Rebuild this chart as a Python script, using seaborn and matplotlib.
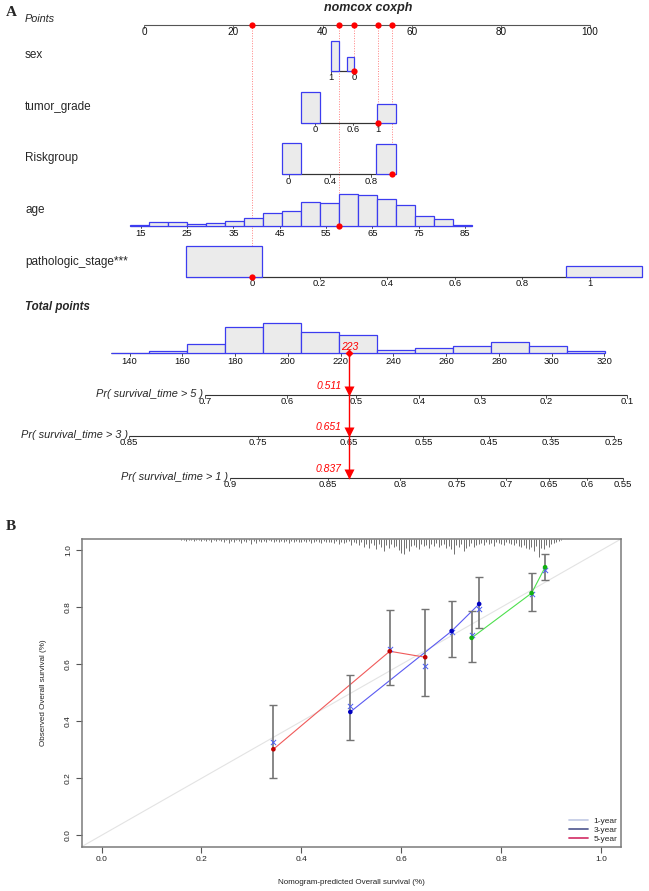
import numpy as np
import pandas as pd
import matplotlib
matplotlib.use("Agg")
import matplotlib.pyplot as plt
import seaborn as sns
from matplotlib.lines import Line2D

# ======================= DATA: nomogram =======================
points_ticks = [0, 20, 40, 60, 80, 100]

# each predictor: points = pts0 + coef * value
sex_pts0, sex_coef = 47.1, -5.2
sex_ticks = [1, 0]
sex_bins = [(0.673, 1.0), (0.0, 0.327)]
sex_freq = [30.3, 14.0]
sex_value = 0

grade_pts0, grade_coef = 38.4, 14.1
grade_ticks = [0, 0.6, 1]
grade_bins = [(-0.232, 0.067), (0.974, 1.286)]
grade_freq = [31.0, 18.4]
grade_value = 1

risk_pts0, risk_coef = 32.4, 23.1
risk_ticks = [0, 0.4, 0.8]
risk_bins = [(-0.068, 0.117), (0.853, 1.043)]
risk_freq = [30.7, 29.7]
risk_value = 1

age_pts0, age_coef = -16.31, 1.038
age_ticks = [15, 25, 35, 45, 55, 65, 75, 85]
age_edges = [12.58, 16.69, 20.80, 24.91, 29.02, 33.13, 37.24, 41.35, 45.46, 49.57,
             53.68, 57.79, 61.90, 66.01, 70.12, 74.23, 78.34, 82.45, 86.56]
age_freq = [1.0, 3.7, 3.7, 1.7, 2.7, 4.3, 7.3, 12.3, 14.7, 23.7, 22.7, 31.7,
            30.3, 26.3, 20.7, 9.3, 6.7, 1.0]
age_value = 57.8

stage_pts0, stage_coef = 24.2, 75.8
stage_ticks = [0, 0.2, 0.4, 0.6, 0.8, 1]
stage_bins = [(-0.195, 0.030), (0.928, 1.154)]
stage_freq = [30.3, 10.3]
stage_value = 0

total_ticks = [140, 160, 180, 200, 220, 240, 260, 280, 300, 320]
total_edges = [132.9, 147.3, 161.7, 176.1, 190.5, 204.9, 219.3, 233.7, 248.1,
               262.5, 276.9, 291.3, 305.7, 320.1]
total_freq = [0.7, 2.0, 9.3, 26.7, 30.3, 21.3, 18.0, 3.0, 5.0, 7.0, 11.0, 7.0, 2.0]
total_to_points_zero, total_to_points_scale = 145.5, 0.5915

# survival: cloglog(S) = beta * total + c_t
surv_beta = 0.011662
surv_c5, surv_c3, surv_c1 = -2.999, -3.446, -4.327
pr5_ticks = [0.7, 0.6, 0.5, 0.4, 0.3, 0.2, 0.1]
pr3_ticks = [0.85, 0.75, 0.65, 0.55, 0.45, 0.35, 0.25]
pr1_ticks = [0.9, 0.85, 0.8, 0.75, 0.7, 0.65, 0.6, 0.55]

# ======================= DATA: calibration =======================
pred_1y = [0.741, 0.861, 0.888]
obs_1y = [0.693, 0.850, 0.941]
lo_1y = [0.609, 0.789, 0.897]
hi_1y = [0.787, 0.922, 0.986]
corr_1y = [0.704, 0.848, 0.930]

pred_3y = [0.498, 0.701, 0.756]
obs_3y = [0.433, 0.717, 0.812]
lo_3y = [0.336, 0.625, 0.728]
hi_3y = [0.561, 0.821, 0.906]
corr_3y = [0.453, 0.715, 0.793]

pred_5y = [0.344, 0.577, 0.648]
obs_5y = [0.302, 0.646, 0.625]
lo_5y = [0.200, 0.528, 0.489]
hi_5y = [0.459, 0.790, 0.793]
corr_5y = [0.327, 0.655, 0.593]

spike_start, spike_step = 0.16, 0.005
spike_freq = [1, 1, 2, 1, 1, 2, 1, 1, 2, 1,
              2, 1, 3, 1, 2, 1, 2, 3, 1, 4,
              2, 3, 1, 2, 4, 2, 3, 1, 5, 2,
              4, 2, 3, 2, 3, 1, 2, 3, 2, 3,
              2, 3, 2, 4, 2, 3, 2, 3, 3, 2,
              3, 2, 4, 3, 2, 3, 4, 2, 3, 3,
              3, 4, 2, 5, 3, 4, 3, 2, 6, 3,
              4, 6, 3, 8, 5, 9, 4, 6, 10, 5,
              8, 12, 6, 9, 5, 8, 7, 11, 14, 15,
              9, 12, 7, 6, 8, 10, 5, 7, 6, 9,
              5, 7, 4, 8, 6, 5, 9, 7, 10, 15,
              6, 8, 5, 12, 9, 7, 4, 8, 6, 5,
              4, 6, 3, 5, 4, 7, 3, 4, 5, 6,
              3, 4, 5, 6, 4, 7, 8, 6, 9, 10,
              8, 12, 7, 18, 9, 10, 6, 8, 5, 4,
              3, 2, 1]

legend_labels = ["1-year", "3-year", "5-year"]

# ======================= STYLE =======================
sns.set_style("white")
plt.rcParams['font.family'] = ['Liberation Sans', 'DejaVu Sans']

W, H = 649, 891
fig = plt.figure(figsize=(W / 100, H / 100), dpi=100)

# ---------------- Panel A: nomogram ----------------
NOM_H = 492
ax = fig.add_axes([0, 1 - NOM_H / H, 1, NOM_H / H])
PX0, PXU = 144.1, 4.46
ax.set_xlim(-PX0 / PXU, (W - PX0) / PXU)
ax.set_ylim(NOM_H, 0)
ax.axis('off')
ytr = ax.get_yaxis_transform()

BAR_FC, BAR_EC = '#ebebeb', '#3c3cf0'
RED = '#ff0000'
AX_C = '#333333'
TICK_FS = 6.8
LAB_FS = 8.5


def fmt(v):
    return f"{v:g}"


def draw_axis(y, tick_P, labels, lo=None, hi=None, fs=TICK_FS, dy=7, color=AX_C, lw=0.8):
    lo = min(tick_P) if lo is None else lo
    hi = max(tick_P) if hi is None else hi
    ax.plot([lo, hi], [y, y], color=color, lw=lw, solid_capstyle='butt', zorder=2)
    for P, lab in zip(tick_P, labels):
        ax.plot([P, P], [y, y + 2.5], color=color, lw=0.6, zorder=2)
        ax.text(P, y + dy, lab, ha='center', va='center', fontsize=fs, color='#111111')


def draw_bars(y, lefts, rights, heights):
    for l, r, h in zip(lefts, rights, heights):
        a, b = min(l, r), max(l, r)
        ax.bar(a, -h, width=b - a, bottom=y, align='edge', facecolor=BAR_FC,
               edgecolor=BAR_EC, linewidth=0.9, zorder=3)


fig.text(6 / W, 1 - 13 / H, 'A', family=['Liberation Serif', 'DejaVu Serif'],
         weight='bold', fontsize=11, va='center')
ax.text(368.5 / W, 8, 'nomcox coxph', transform=ytr, ha='center', va='center',
        fontsize=9, weight='bold', style='italic')

# Points axis
Y_POINTS = 25
ax.text(25 / W, 19, 'Points', transform=ytr, ha='left', va='center',
        fontsize=7.8, style='italic')
draw_axis(Y_POINTS, points_ticks, [fmt(t) for t in points_ticks], fs=7.2, color='#555555')

rows = [
    ('sex', 71, sex_pts0, sex_coef, sex_ticks, sex_bins, sex_freq, sex_value),
    ('tumor_grade', 122.7, grade_pts0, grade_coef, grade_ticks, grade_bins, grade_freq, grade_value),
    ('Riskgroup', 174, risk_pts0, risk_coef, risk_ticks, risk_bins, risk_freq, risk_value),
]

total = 0.0
for name, y, p0, cf, ticks, bins, freq, val in rows:
    ax.text(25 / W, y - 16, name, transform=ytr, ha='left', va='center', fontsize=LAB_FS)
    tP = [p0 + cf * t for t in ticks]
    bl = [p0 + cf * b[0] for b in bins]
    br = [p0 + cf * b[1] for b in bins]
    allx = bl + br
    ax.plot([min(allx), max(allx)], [y, y], color=AX_C, lw=0.8, zorder=2)
    draw_axis(y, tP, [fmt(t) for t in ticks])
    draw_bars(y, bl, br, freq)
    Pv = p0 + cf * val
    total += Pv
    ax.plot([Pv, Pv], [Y_POINTS, y], color='#ff8080', lw=0.7, ls=(0, (1, 1.6)), zorder=1)
    ax.plot([Pv, Pv], [Y_POINTS, y], 'o', color=RED, ms=4.5, mec='none', zorder=5)

# age
Y_AGE = 225.7
ax.text(25 / W, Y_AGE - 16, 'age', transform=ytr, ha='left', va='center', fontsize=LAB_FS)
aP = [age_pts0 + age_coef * e for e in age_edges]
draw_axis(Y_AGE, [age_pts0 + age_coef * t for t in age_ticks], [fmt(t) for t in age_ticks],
          lo=aP[0], hi=aP[-1], dy=8)
draw_bars(Y_AGE, aP[:-1], aP[1:], age_freq)
Pv = age_pts0 + age_coef * age_value
total += Pv
ax.plot([Pv, Pv], [Y_POINTS, Y_AGE], color='#ff8080', lw=0.7, ls=(0, (1, 1.6)), zorder=1)
ax.plot([Pv, Pv], [Y_POINTS, Y_AGE], 'o', color=RED, ms=4.5, mec='none', zorder=5)

# pathologic stage
Y_ST = 276.7
ax.text(25 / W, Y_ST - 15, 'pathologic_stage***', transform=ytr, ha='left', va='center',
        fontsize=LAB_FS)
sbl = [stage_pts0 + stage_coef * b[0] for b in stage_bins]
sbr = [stage_pts0 + stage_coef * b[1] for b in stage_bins]
ax.plot([min(sbl), max(sbr)], [Y_ST, Y_ST], color=AX_C, lw=0.8, zorder=2)
draw_axis(Y_ST, [stage_pts0 + stage_coef * t for t in stage_ticks], [fmt(t) for t in stage_ticks])
draw_bars(Y_ST, sbl, sbr, stage_freq)
Pv = stage_pts0 + stage_coef * stage_value
total += Pv
ax.plot([Pv, Pv], [Y_POINTS, Y_ST], color='#ff8080', lw=0.7, ls=(0, (1, 1.6)), zorder=1)
ax.plot([Pv, Pv], [Y_POINTS, Y_ST], 'o', color=RED, ms=4.5, mec='none', zorder=5)


def t2p(T):
    return (T - total_to_points_zero) * total_to_points_scale


# Total points
Y_TOT = 353.3
ax.text(25 / W, 306.7, 'Total points', transform=ytr, ha='left', va='center',
        fontsize=8.3, weight='bold', style='italic')
tE = [t2p(e) for e in total_edges]
draw_axis(Y_TOT, [t2p(t) for t in total_ticks], [fmt(t) for t in total_ticks],
          lo=tE[0], hi=tE[-1], dy=8.4)
draw_bars(Y_TOT, tE[:-1], tE[1:], total_freq)
PT = t2p(total)


def prob_to_P(p, c):
    return t2p((np.log(-np.log(p)) - c) / surv_beta)


prob_rows = [
    ('Pr( survival_time > 5 )', 395.0, surv_c5, pr5_ticks, 2),
    ('Pr( survival_time > 3 )', 435.7, surv_c3, pr3_ticks, 1),
    ('Pr( survival_time > 1 )', 477.7, surv_c1, pr1_ticks, 2),
]
for lab, y, c, ticks, gap in prob_rows:
    tP = [prob_to_P(p, c) for p in ticks]
    draw_axis(y, tP, [fmt(t) for t in ticks], dy=6.5)
    ax.text(min(tP) - gap / PXU, y - 1, lab, ha='right', va='center', fontsize=7.9, style='italic')
    pval = np.exp(-np.exp(surv_beta * total + c))
    ax.plot(PT, y - 3.8, 'v', color=RED, ms=7, mec='none', zorder=6)
    ax.text(PT - 1.6, y - 9, f"{pval:.3f}", ha='right', va='center', fontsize=7.5,
            style='italic', color=RED)

ax.plot([PT, PT], [Y_TOT, prob_rows[-1][1]], color=RED, lw=1.0, zorder=5)
ax.plot(PT, Y_TOT, 'D', color=RED, ms=4.5, mec='none', zorder=6)
ax.text(PT + 0.3, Y_TOT - 6.5, f"{total:.0f}", ha='center', va='center', fontsize=7.5,
        style='italic', color=RED, zorder=7)

# ---------------- Panel B: calibration ----------------
fig.text(6 / W, 1 - 527 / H, 'B', family=['Liberation Serif', 'DejaVu Serif'],
         weight='bold', fontsize=11, va='center')
L, R, T, B = 81.6, 621.0, 539.0, 846.7
cax = fig.add_axes([L / W, 1 - B / H, (R - L) / W, (B - T) / H])
cax.set_xlim(-0.04, 1.04)
cax.set_ylim(-0.04, 1.04)
PX_PER_Y = (B - T) / 1.08

cax.plot([-0.04, 1.04], [-0.04, 1.04], color='#e3e3e3', lw=0.8, zorder=1)

spike_x = [spike_start + i * spike_step for i in range(len(spike_freq))]
cax.vlines(spike_x, [1.04 - f / PX_PER_Y for f in spike_freq], 1.04,
           color='#666666', lw=0.65, zorder=2)

groups = ['1-year'] * 3 + ['3-year'] * 3 + ['5-year'] * 3
df = pd.DataFrame({
    'pred': pred_1y + pred_3y + pred_5y,
    'obs': obs_1y + obs_3y + obs_5y,
    'lo': lo_1y + lo_3y + lo_5y,
    'hi': hi_1y + hi_3y + hi_5y,
    'corr': corr_1y + corr_3y + corr_5y,
    'group': groups,
})
line_pal = {'1-year': '#4ee04e', '3-year': '#5a5af2', '5-year': '#f05a5a'}
dot_pal = {'1-year': '#10b010', '3-year': '#0000c0', '5-year': '#c00000'}

sns.lineplot(data=df, x='pred', y='obs', hue='group', palette=line_pal, sort=False,
             estimator=None, lw=0.8, legend=False, ax=cax, zorder=3)
cax.errorbar(df['pred'], df['obs'], yerr=[df['obs'] - df['lo'], df['hi'] - df['obs']],
             fmt='none', ecolor='#737373', elinewidth=1.2, capsize=3.2, capthick=1.0, zorder=4)
sns.scatterplot(data=df, x='pred', y='corr', marker='x', color='#4a5cf5', s=14,
                linewidth=0.7, legend=False, ax=cax, zorder=5)
sns.scatterplot(data=df, x='pred', y='obs', hue='group', palette=dot_pal, s=11,
                edgecolor='none', legend=False, ax=cax, zorder=6)

for sp in cax.spines.values():
    sp.set_color('#7a7a7a')
    sp.set_linewidth(1.1)
ticks = [0.0, 0.2, 0.4, 0.6, 0.8, 1.0]
cax.set_xticks(ticks)
cax.set_yticks(ticks)
cax.set_xticklabels([f"{t:.1f}" for t in ticks])
cax.set_yticklabels([f"{t:.1f}" for t in ticks], rotation=90, va='center')
cax.tick_params(axis='both', which='both', direction='out', length=4, width=0.8,
                color='#555555', labelsize=6, labelcolor='#222222', pad=3,
                bottom=True, left=True)
cax.set_xlabel('Nomogram-predicted Overall survival (%)', fontsize=5.8, color='#222222')
cax.set_ylabel('Observed Overall survival (%)', fontsize=5.8, color='#222222')
cax.xaxis.set_label_coords(0.5, -0.104)
cax.yaxis.set_label_coords(-0.064, 0.5)

leg_cols = ['#c5cde6', '#5b6296', '#d63c6f']
handles = [Line2D([0], [0], color=c, lw=1.3) for c in leg_cols]
cax.legend(handles, legend_labels, loc='lower right', bbox_to_anchor=(0.993, 0.012),
           frameon=False, fontsize=6, handlelength=2.3, handletextpad=0.6,
           labelspacing=0.12, borderaxespad=0, borderpad=0)

fig.savefig('out.png', dpi=100)
